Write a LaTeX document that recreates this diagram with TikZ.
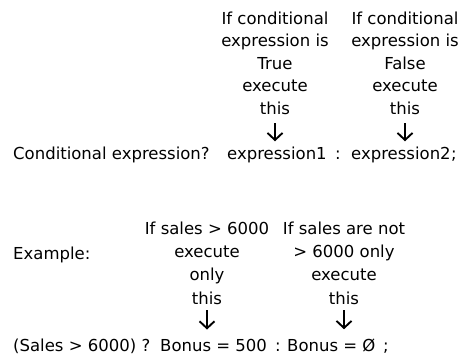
\documentclass[tikz,border=0pt]{standalone}
\usepackage{fontspec}
\setmainfont{DejaVu Sans}
\usepackage{tikz}
\usetikzlibrary{arrows.meta, positioning}
\tikzset{
  notetext/.style={
    align=center, inner sep=0pt, anchor=base,
    font=\fontsize{16.5}{22.5}\selectfont
  },
  notetextlow/.style={
    align=center, inner sep=0pt, anchor=base,
    font=\fontsize{16.5}{23.3}\selectfont
  },
  codetext/.style={
    inner sep=0pt, anchor=base west,
    font=\fontsize{16.5}{20}\selectfont
  },
  pointarrow/.style={
    -{Straight Barb[length=7pt, width=15pt]}, line width=1.9pt
  },
}

\begin{document}
\begin{tikzpicture}[x=1pt, y=-1pt]
  \useasboundingbox (0,0) rectangle (460,356);

  % === General form ===
  \node[notetext] (iftrue) at (275, 114)
    {If conditional\\expression is\\True\\execute\\this};
  \node[notetext] (iffalse) at (405, 114)
    {If conditional\\expression is\\False\\execute\\this};

  \node[codetext] (cond) at (13, 159) {Conditional expression?};
  \node[codetext] (exprone) at (227, 159) {expression1};
  \node[codetext] (colonone) at (335, 159) {:};
  \node[codetext] (exprtwo) at (351, 159) {expression2};
  \node[codetext] (semione) at (451, 159) {;};

  % === Arrows: general form ===
  \draw[pointarrow, shorten <=9pt, shorten >=5pt] (iftrue.south) -- (iftrue.south |- exprone.north);
  \draw[pointarrow, shorten <=9pt, shorten >=5pt] (iffalse.south) -- (iffalse.south |- exprtwo.north);

  % === Example ===
  \node[codetext] (example) at (13, 259) {Example:};
  \node[notetextlow] (ifsales) at (207, 304)
    {If sales > 6000\\execute\\only\\this};
  \node[notetextlow] (ifnot) at (344, 304)
    {If sales are not\\> 6000 only\\execute\\this};

  \node[codetext] (salescond) at (13, 351) {(Sales > 6000) ?};
  \node[codetext] (bonusone) at (160, 351) {Bonus = 500};
  \node[codetext] (colontwo) at (275, 351) {:};
  \node[codetext] (bonustwo) at (287, 351) {Bonus = Ø};
  \node[codetext] (semitwo) at (383, 351) {;};

  % === Arrows: example ===
  \draw[pointarrow, shorten <=6pt, shorten >=9pt] (ifsales.south) -- (ifsales.south |- bonusone.north);
  \draw[pointarrow, shorten <=6pt, shorten >=9pt] (ifnot.south) -- (ifnot.south |- bonustwo.north);

\end{tikzpicture}
\end{document}
